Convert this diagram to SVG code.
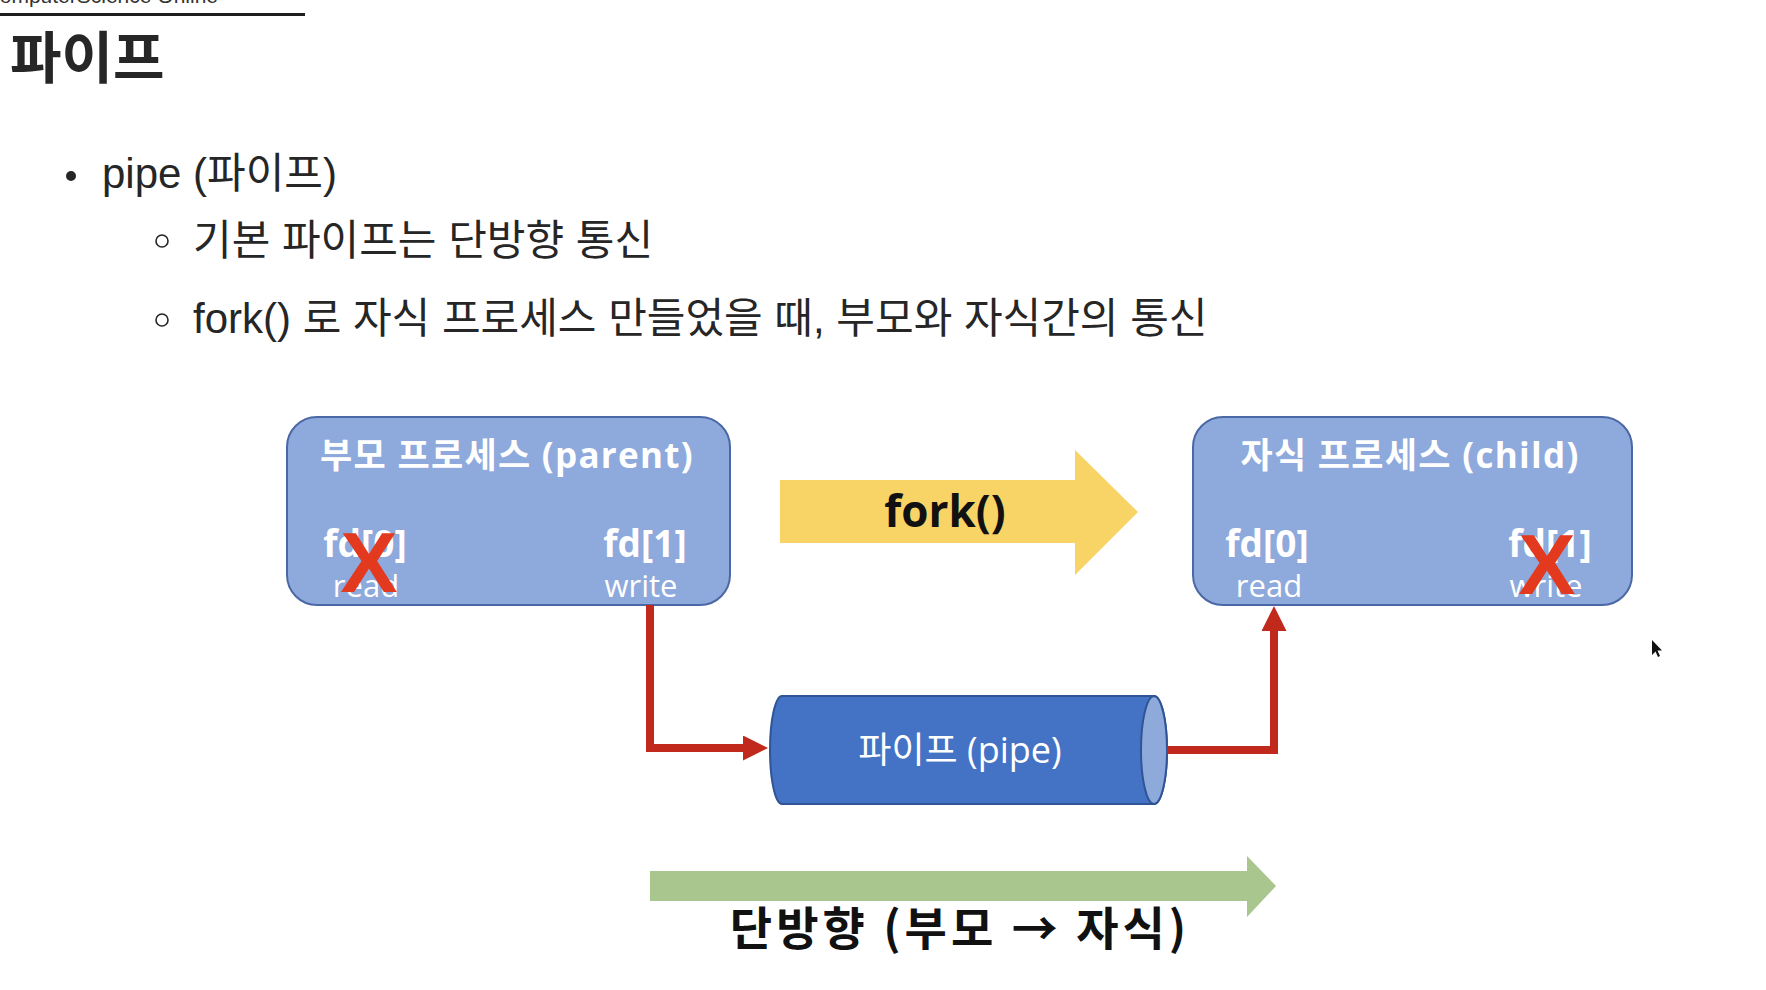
<svg xmlns="http://www.w3.org/2000/svg" width="1766" height="990" viewBox="0 0 1766 990">
  <defs>
    <style>
      .slide { font-family: "Liberation Sans", "Noto Sans CJK KR", sans-serif; fill: #262626; font-size: 42px; }
      .dia { font-family: "Open Sans", "Noto Sans CJK KR", sans-serif; }
      .proc { fill: #8ea9db; stroke: #4a68a6; stroke-width: 2; }
      .ptitle { font-size: 35px; font-weight: 700; fill: #ffffff; text-anchor: middle; letter-spacing: 1.3px; }
      .fd { font-size: 37px; font-weight: 700; fill: #ffffff; text-anchor: middle; }
      .mode { font-size: 31px; fill: #ffffff; text-anchor: middle; }
      .cross { font-family: "Liberation Sans", sans-serif; font-size: 86px; font-weight: 700; fill: #e2391f; text-anchor: middle; }
      .wire { fill: none; stroke: #c0291b; stroke-width: 8; }
    </style>
    <marker id="head" viewBox="0 0 25 25" markerWidth="25" markerHeight="25" markerUnits="userSpaceOnUse" refX="7" refY="12.5" orient="auto">
      <path d="M0,0 L25,12.5 L0,25 Z" fill="#c0291b"/>
    </marker>
  </defs>

  <rect width="1766" height="990" fill="#ffffff"/>

  <!-- page header -->
  <g id="header">
    <text x="218" y="3" font-family="'Liberation Sans', sans-serif" font-size="21" text-anchor="end" fill="#333">ComputerScience Online</text>
    <rect x="0" y="13" width="305" height="3" fill="#1e1e1e"/>
  </g>

  <!-- slide title -->
  <g id="title">
    <text x="10" y="78" font-family="'Noto Sans CJK KR', sans-serif" font-size="56" font-weight="700" fill="#262626">파이프</text>
  </g>

  <!-- bullet list -->
  <g id="bullets">
    <circle cx="71" cy="176" r="5" fill="#262626"/>
    <text class="slide" x="102" y="188">pipe (파이프)</text>
    <circle cx="162" cy="241" r="6" fill="none" stroke="#262626" stroke-width="1.6"/>
    <text class="slide" x="193" y="255">기본 파이프는 단방향 통신</text>
    <circle cx="162" cy="320" r="6" fill="none" stroke="#262626" stroke-width="1.6"/>
    <text class="slide" x="193" y="333">fork() 로 자식 프로세스 만들었을 때, 부모와 자식간의 통신</text>
  </g>

  <!-- parent process -->
  <g id="node-parent" class="dia">
    <rect class="proc" x="287" y="417" width="443" height="188" rx="30" ry="30"/>
    <text class="ptitle" x="507" y="468">부모 프로세스 (parent)</text>
    <text class="fd" x="365" y="557">fd[0]</text>
    <text class="mode" x="366" y="597">read</text>
    <text class="fd" x="645" y="557">fd[1]</text>
    <text class="mode" x="641" y="597">write</text>
    <text class="cross" x="369" y="592">X</text>
  </g>

  <!-- child process -->
  <g id="node-child" class="dia">
    <rect class="proc" x="1193" y="417" width="439" height="188" rx="30" ry="30"/>
    <text class="ptitle" x="1410" y="468">자식 프로세스 (child)</text>
    <text class="fd" x="1267" y="557">fd[0]</text>
    <text class="mode" x="1269" y="597">read</text>
    <text class="fd" x="1550" y="557">fd[1]</text>
    <text class="mode" x="1546" y="597">write</text>
    <text class="cross" x="1547" y="594">X</text>
  </g>

  <!-- fork() block arrow -->
  <g id="fork-arrow" class="dia">
    <polygon points="780,480 1075,480 1075,450 1138,512 1075,575 1075,543 780,543" fill="#f8d467"/>
    <text x="945" y="527" font-size="44" font-weight="700" fill="#111" text-anchor="middle">fork()</text>
  </g>

  <!-- pipe cylinder -->
  <g id="node-pipe" class="dia">
    <path d="M782,696 H1154 A13,54 0 0 1 1154,804 H782 A12,54 0 0 1 782,696 Z" fill="#4472c4" stroke="#2f5597" stroke-width="2"/>
    <ellipse cx="1154" cy="750" rx="13" ry="54" fill="#8eaadb" stroke="#2f5597" stroke-width="2"/>
    <text x="960" y="763" font-size="36" fill="#ffffff" text-anchor="middle">파이프 (pipe)</text>
  </g>

  <!-- data flow connectors -->
  <g id="connectors">
    <path class="wire" d="M650,605 V748 H750" marker-end="url(#head)"/>
    <path class="wire" d="M1167,750 H1274 V624" marker-end="url(#head)"/>
  </g>

  <!-- direction arrow with caption -->
  <g id="direction-arrow">
    <polygon points="650,871 1247,871 1247,856 1276,886 1247,917 1247,901 650,901" fill="#a9c68e"/>
    <text x="960" y="945" font-family="'Noto Sans CJK KR', sans-serif" font-size="46" font-weight="700" fill="#111" text-anchor="middle" letter-spacing="4">단방향 (부모 → 자식)</text>
  </g>

  <!-- mouse pointer -->
  <polygon points="1652,640 1652,655 1655.5,651.5 1658,657 1660,656 1657.5,650.5 1662,650.5" fill="#111"/>
</svg>
